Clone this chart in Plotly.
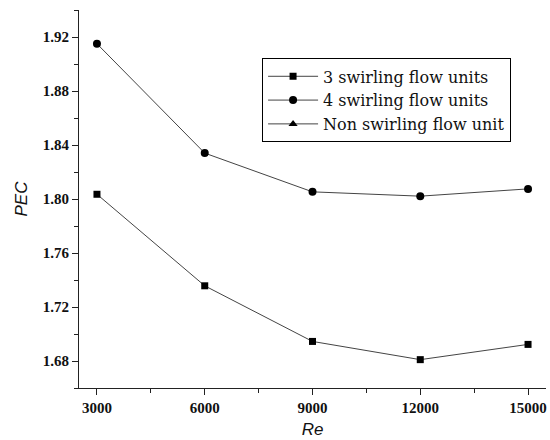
import plotly.graph_objects as go

re_values = [3000, 6000, 9000, 12000, 15000]
pec_3_units = [1.8035, 1.7357, 1.6945, 1.6810, 1.6923]
pec_4_units = [1.9150, 1.8340, 1.8053, 1.8021, 1.8075]
pec_non_swirl = []  # shown in legend only, no points drawn

series_names = ["3 swirling flow units", "4 swirling flow units", "Non swirling flow unit"]

x_range = [2500, 15500]
y_range = [1.66, 1.94]
x_ticks = [3000, 6000, 9000, 12000, 15000]
x_tick_text = ["3000", "6000", "9000", "12000", "15000"]
y_ticks = [1.68, 1.72, 1.76, 1.80, 1.84, 1.88, 1.92]

serif = "Liberation Serif"
axis_color = "#222222"
tick_font = dict(family=serif, size=15, color="#111111", weight="bold")

fig = go.Figure()
fig.add_trace(go.Scatter(x=re_values, y=pec_3_units, mode="lines+markers", name=series_names[0],
                         line=dict(color="#444444", width=1),
                         marker=dict(symbol="square", size=7, color="black")))
fig.add_trace(go.Scatter(x=re_values, y=pec_4_units, mode="lines+markers", name=series_names[1],
                         line=dict(color="#444444", width=1),
                         marker=dict(symbol="circle", size=8, color="black")))
fig.add_trace(go.Scatter(x=[None] if not pec_non_swirl else re_values,
                         y=[None] if not pec_non_swirl else pec_non_swirl,
                         mode="lines+markers", name=series_names[2],
                         line=dict(color="#444444", width=1),
                         marker=dict(symbol="triangle-up", size=8, color="black")))

fig.update_layout(
    width=550, height=440,
    margin=dict(l=79, r=4, t=10, b=52),
    paper_bgcolor="white", plot_bgcolor="white",
    font=dict(family=serif, color="#111111"),
    showlegend=True,
    legend=dict(x=0.392, y=0.872, xanchor="left", yanchor="top",
                bgcolor="white", bordercolor="black", borderwidth=1,
                font=dict(family="DejaVu Serif", size=16, color="#111111"),
                tracegroupgap=0, itemwidth=50),
    xaxis=dict(range=x_range, tickvals=x_ticks, ticktext=x_tick_text, ticks="outside", ticklen=6, tickwidth=1,
               tickcolor=axis_color, showline=True, linecolor=axis_color, linewidth=1,
               showgrid=False, zeroline=False, tickfont=tick_font,
               minor=dict(dtick=1500, tick0=0, ticks="outside", ticklen=4, tickcolor=axis_color, showgrid=False),
               title=dict(text="<i>Re</i>", font=dict(family="Liberation Sans", size=17, color="#111111"), standoff=8)),
    yaxis=dict(range=y_range, tickvals=y_ticks, tickformat=".2f", ticks="outside", ticklen=6, tickwidth=1,
               tickcolor=axis_color, showline=True, linecolor=axis_color, linewidth=1,
               showgrid=False, zeroline=False, tickfont=tick_font,
               minor=dict(dtick=0.02, tick0=1.66, ticks="outside", ticklen=4, tickcolor=axis_color, showgrid=False),
               title=dict(text="<i>PEC</i>", font=dict(family="Liberation Sans", size=17, color="#111111"), standoff=10)),
    xaxis2=dict(range=x_range, tickvals=x_ticks, overlaying="x", side="top", anchor="y",
                ticks="inside", ticklen=4, tickcolor=axis_color, showline=True, linecolor=axis_color,
                linewidth=1, showticklabels=False, showgrid=False, zeroline=False,
                minor=dict(dtick=1500, tick0=0, ticks="inside", ticklen=3, tickcolor=axis_color, showgrid=False)),
    yaxis2=dict(range=y_range, tickvals=y_ticks, overlaying="y", side="right", anchor="x",
                ticks="inside", ticklen=4, tickcolor=axis_color, showline=True, linecolor=axis_color,
                linewidth=1, showticklabels=False, showgrid=False, zeroline=False,
                minor=dict(dtick=0.02, tick0=1.66, ticks="inside", ticklen=3, tickcolor=axis_color, showgrid=False)),
)

fig.write_html("out.html")
